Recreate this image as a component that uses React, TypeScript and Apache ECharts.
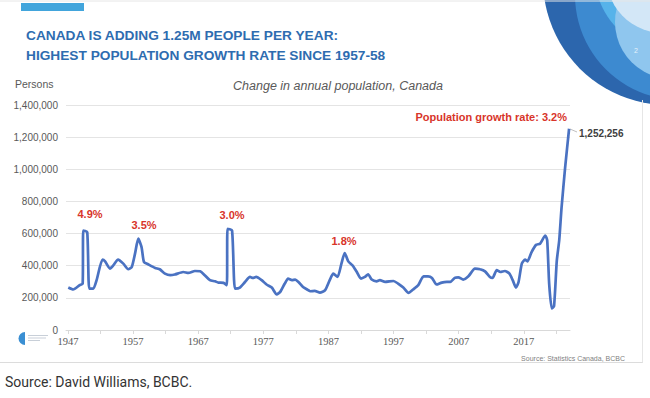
import React, { useEffect, useRef } from "react";
import * as echarts from "echarts";

const years = [1947.05, 1947.8, 1948.8, 1949.26, 1949.35, 1949.96, 1950.27, 1950.9, 1951.4, 1952.3, 1952.7, 1953.45, 1953.96, 1954.7, 1955.5, 1956.26, 1956.8, 1957.3, 1957.8, 1958.3, 1958.67, 1959.3, 1960.4, 1961.1, 1961.9, 1962.7, 1963.4, 1964.7, 1965.5, 1966.5, 1967.3, 1968.0, 1968.8, 1969.6, 1970.1, 1970.9, 1971.4, 1971.5, 1972.2, 1972.65, 1973.4, 1974.2, 1974.96, 1975.4, 1975.9, 1976.75, 1977.5, 1978.3, 1979.06, 1979.6, 1980.3, 1980.8, 1981.4, 1981.9, 1982.4, 1983.1, 1983.9, 1984.2, 1984.9, 1985.7, 1986.5, 1987.2, 1987.75, 1988.4, 1989.0, 1989.5, 1990.05, 1990.7, 1991.3, 1992.0, 1992.6, 1993.1, 1993.65, 1994.4, 1994.9, 1995.7, 1997.0, 1997.7, 1998.5, 1999.3, 2000.0, 2000.8, 2001.6, 2002.3, 2002.9, 2003.6, 2004.4, 2005.2, 2005.7, 2006.4, 2006.95, 2007.7, 2008.5, 2009.5, 2010.3, 2011.05, 2011.8, 2012.2, 2012.85, 2013.4, 2014.1, 2014.8, 2015.3, 2015.8, 2016.2, 2016.7, 2017.2, 2017.55, 2018.2, 2018.9, 2019.5, 2020.3, 2020.6, 2020.9, 2021.3, 2021.65, 2022.07, 2022.45, 2022.8, 2023.35, 2023.96];

const persons = [264000, 252000, 279000, 289000, 619000, 609000, 258000, 258000, 310000, 438000, 427000, 382000, 402000, 438000, 413000, 378000, 392000, 475000, 568000, 516000, 423000, 409000, 386000, 378000, 351000, 341000, 345000, 361000, 355000, 367000, 365000, 341000, 310000, 303000, 295000, 293000, 279000, 630000, 619000, 258000, 264000, 299000, 330000, 324000, 330000, 310000, 283000, 264000, 221000, 237000, 289000, 320000, 310000, 314000, 299000, 268000, 248000, 241000, 243000, 233000, 248000, 310000, 351000, 330000, 413000, 479000, 427000, 402000, 365000, 320000, 330000, 347000, 314000, 303000, 310000, 299000, 305000, 289000, 264000, 231000, 252000, 279000, 334000, 334000, 324000, 283000, 295000, 299000, 299000, 324000, 328000, 314000, 334000, 382000, 378000, 365000, 330000, 324000, 372000, 361000, 367000, 351000, 310000, 264000, 299000, 413000, 438000, 427000, 485000, 530000, 537000, 588000, 557000, 289000, 134000, 149000, 430000, 560000, 760000, 1010000, 1252256];

const labelYears = [1947, 1957, 1967, 1977, 1987, 1997, 2007, 2017];
const tickYears = [1947, 1952, 1957, 1962, 1967, 1972, 1977, 1982, 1987, 1992, 1997, 2002, 2007, 2012, 2017, 2022];

const titleLines = ["CANADA IS ADDING 1.25M PEOPLE PER YEAR:", "HIGHEST POPULATION GROWTH RATE SINCE 1957-58"];
const subtitle = "Change in annual population, Canada";
const yAxisName = "Persons";
const growthLabels = ["4.9%", "3.5%", "3.0%", "1.8%"];
const latestLabel = "Population growth rate: 3.2%";
const latestValue = "1,252,256";
const chartSource = "Source: Statistics Canada, BCBC";
const pageSource = "Source: David Williams, BCBC.";

export default function App() {
  const ref = useRef<HTMLDivElement>(null);
  useEffect(() => {
    if (!ref.current) return;
    const chart = echarts.init(ref.current, null, { renderer: "svg" });
    const red = "#d8352a";
    const ann = (text: string, x: number, y: number) => ({
      type: "text",
      x,
      y,
      style: { text, fill: red, font: "bold 11px 'Liberation Sans', Arial, sans-serif", textAlign: "center", textVerticalAlign: "middle" },
    });
    const option: any = {
      animation: false,
      backgroundColor: "#ffffff",
      grid: { left: 66, right: 80, top: 105, bottom: 68 },
      xAxis: {
        type: "value",
        min: 1946.7,
        max: 2024.1,
        splitLine: { show: false },
        axisLine: { lineStyle: { color: "#d9d9d9", width: 1 } },
        axisTick: { show: true, customValues: tickYears, length: 4, lineStyle: { color: "#d9d9d9" } },
        axisLabel: {
          customValues: labelYears,
          formatter: (v: number) => String(Math.round(v)),
          fontFamily: "'Liberation Serif', serif",
          fontSize: 10.5,
          color: "#595959",
          margin: 6,
        },
      },
      yAxis: {
        type: "value",
        min: 0,
        max: 1400000,
        interval: 200000,
        axisLine: { show: false },
        axisTick: { show: false },
        splitLine: { lineStyle: { color: "#e4e4e4", width: 1 } },
        axisLabel: {
          formatter: (v: number) => v.toLocaleString("en-US"),
          fontFamily: "'Liberation Sans', Arial, sans-serif",
          fontSize: 10,
          color: "#595959",
          margin: 8,
        },
      },
      series: [
        {
          type: "line",
          data: years.map((y, i) => [y, persons[i]]),
          showSymbol: false,
          smooth: 0.2,
          lineStyle: { color: "#4a72c2", width: 2.7 },
        },
      ],
      graphic: [
        // top-right decorative circles
        { type: "circle", shape: { cx: 668, cy: -20, r: 125 }, style: { fill: "#2c66ad" } },
        { type: "circle", shape: { cx: 680, cy: -5, r: 105 }, style: { fill: "#3d8ad0" } },
        { type: "circle", shape: { cx: 670, cy: -25, r: 75 }, style: { fill: "#56b3ea" } },
        { type: "circle", shape: { cx: 672, cy: 22, r: 57 }, style: { fill: "#8fc6ee" } },
        { type: "ellipse", shape: { cx: 668, cy: -18, rx: 60, ry: 52 }, style: { fill: "#d3e7f7" } },
        { type: "text", x: 636, y: 50, style: { text: "2", fill: "#e6f2fb", font: "7px 'Liberation Sans', sans-serif", textAlign: "center", textVerticalAlign: "middle" } },
        // slide frame
        { type: "line", shape: { x1: 0, y1: 1, x2: 650, y2: 1 }, style: { stroke: "#e6e6e6", lineWidth: 1 } },
        { type: "line", shape: { x1: 0, y1: 362.5, x2: 643, y2: 362.5 }, style: { stroke: "#dcdcdc", lineWidth: 1 } },
        { type: "line", shape: { x1: 642.5, y1: 100, x2: 642.5, y2: 362.5 }, style: { stroke: "#e6e6e6", lineWidth: 1 } },
        // top-left accent bar
        { type: "rect", shape: { x: 21, y: 3, width: 63, height: 8 }, style: { fill: "#42a5dc" } },
        // title
        { type: "text", x: 26, y: 35, style: { text: titleLines[0], fill: "#2e6cb0", font: "bold 13.7px 'Liberation Sans', Arial, sans-serif", textVerticalAlign: "middle" } },
        { type: "text", x: 26, y: 55, style: { text: titleLines[1], fill: "#2e6cb0", font: "bold 13.7px 'Liberation Sans', Arial, sans-serif", textVerticalAlign: "middle" } },
        // axis name and subtitle
        { type: "text", x: 15, y: 84, style: { text: yAxisName, fill: "#595959", font: "10.5px 'Liberation Sans', Arial, sans-serif", textVerticalAlign: "middle" } },
        { type: "text", x: 338, y: 86, style: { text: subtitle, fill: "#595959", font: "italic 12.5px 'Liberation Sans', Arial, sans-serif", textAlign: "center", textVerticalAlign: "middle" } },
        // annotations
        ann(growthLabels[0], 90, 213.5),
        ann(growthLabels[1], 144, 225),
        ann(growthLabels[2], 232, 215),
        ann(growthLabels[3], 344, 240.5),
        { type: "text", x: 567, y: 116.5, style: { text: latestLabel, fill: red, font: "bold 11px 'Liberation Sans', Arial, sans-serif", textAlign: "right", textVerticalAlign: "middle" } },
        { type: "line", shape: { x1: 570, y1: 129, x2: 577, y2: 132 }, style: { stroke: "#bfbfbf", lineWidth: 1 } },
        { type: "text", x: 579, y: 133.5, style: { text: latestValue, fill: "#404040", font: "bold 10px 'Liberation Sans', Arial, sans-serif", textVerticalAlign: "middle" } },
        // small logo bottom-left
        { type: "sector", shape: { cx: 25, cy: 338.5, r: 6.5, startAngle: Math.PI / 2, endAngle: (3 * Math.PI) / 2 }, style: { fill: "#3a8fd3" } },
        { type: "rect", shape: { x: 28, y: 335, width: 20, height: 1 }, style: { fill: "#c8cfd8" } },
        { type: "rect", shape: { x: 28, y: 337.5, width: 18, height: 1 }, style: { fill: "#c8cfd8" } },
        { type: "rect", shape: { x: 28, y: 340, width: 12, height: 1 }, style: { fill: "#c8cfd8" } },
        // sources
        { type: "text", x: 625, y: 358, style: { text: chartSource, fill: "#7f7f7f", font: "7px 'Liberation Sans', Arial, sans-serif", textAlign: "right", textVerticalAlign: "middle" } },
        { type: "text", x: 5, y: 382, style: { text: pageSource, fill: "#333333", font: "14px Roboto, 'Noto Sans', sans-serif", textVerticalAlign: "middle" } },
      ],
    };
    chart.setOption(option);
    return () => chart.dispose();
  }, []);
  return <div ref={ref} style={{ position: "fixed", left: 0, top: 0, width: 650, height: 398 }} />;
}
